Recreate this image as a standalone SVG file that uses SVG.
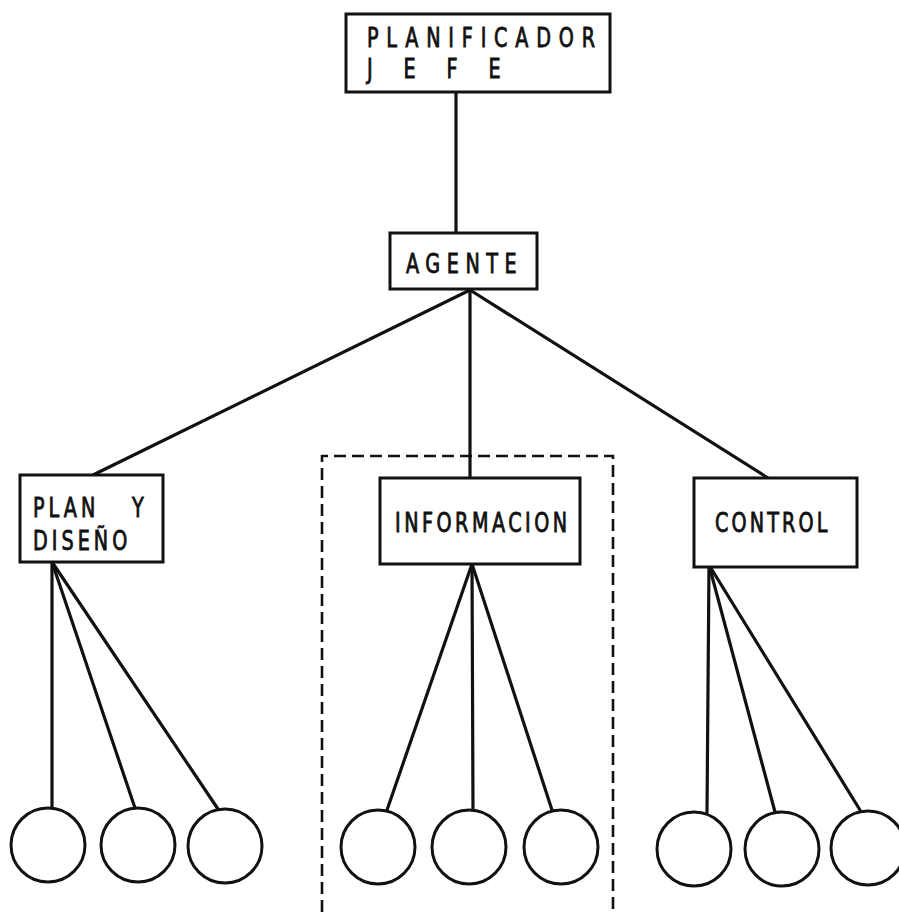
<svg xmlns="http://www.w3.org/2000/svg" width="899" height="912" viewBox="0 0 899 912">
  <style>
    .box { fill: #fff; stroke: #111; stroke-width: 3; }
    .leaf { fill: #fff; stroke: #111; stroke-width: 3; }
    .link { stroke: #111; stroke-width: 3.2; fill: none; stroke-linecap: round; }
    .group { fill: none; stroke: #111; stroke-width: 2.6; stroke-dasharray: 12 6; }
    .lbl { font-family: "DejaVu Sans Condensed", "DejaVu Sans", sans-serif; font-size: 26px; fill: #111; stroke: #111; stroke-width: 0.8; }
  </style>
  <rect width="899" height="912" fill="#fff"/>

  <!-- dashed frame around the information branch -->
  <g id="frame-informacion">
    <path class="group" d="M322 912 V456 H613 V912"/>
  </g>

  <!-- connectors -->
  <g id="connectors">
    <line class="link" x1="456" y1="92" x2="456" y2="233"/>
    <line class="link" x1="470" y1="290" x2="93" y2="475"/>
    <line class="link" x1="470" y1="290" x2="470" y2="478"/>
    <line class="link" x1="470" y1="290" x2="768" y2="478"/>

    <line class="link" x1="52" y1="562" x2="52" y2="808"/>
    <line class="link" x1="52" y1="562" x2="135" y2="808"/>
    <line class="link" x1="52" y1="562" x2="220" y2="812"/>

    <line class="link" x1="472" y1="564" x2="387" y2="810"/>
    <line class="link" x1="472" y1="564" x2="473" y2="810"/>
    <line class="link" x1="472" y1="564" x2="552" y2="810"/>

    <line class="link" x1="709" y1="565" x2="707" y2="812"/>
    <line class="link" x1="709" y1="565" x2="775" y2="812"/>
    <line class="link" x1="709" y1="565" x2="860" y2="810"/>
  </g>

  <!-- labels use narrow, widely spaced typewriter-style capitals -->
  <g id="planificador-jefe">
    <rect class="box" x="346" y="14" width="264" height="78"/>
    <text class="lbl" transform="translate(367,47) scale(0.82,1)" textLength="278" lengthAdjust="spacing">PLANIFICADOR</text>
    <text class="lbl" transform="translate(367,78) scale(0.82,1)" textLength="163" lengthAdjust="spacing">J E F E</text>
  </g>

  <g id="agente">
    <rect class="box" x="390" y="233" width="147" height="56"/>
    <text class="lbl" transform="translate(406,273) scale(0.82,1)" textLength="135" lengthAdjust="spacing">AGENTE</text>
  </g>

  <g id="plan-y-diseno">
    <rect class="box" x="20" y="475" width="143" height="87"/>
    <text class="lbl" transform="translate(33,517) scale(0.82,1)" textLength="76" lengthAdjust="spacing">PLAN</text>
    <text class="lbl" transform="translate(132,517) scale(0.82,1)">Y</text>
    <text class="lbl" transform="translate(33,550) scale(0.82,1)" textLength="115" lengthAdjust="spacing">DISEÑO</text>
  </g>

  <g id="informacion">
    <rect class="box" x="380" y="478" width="200" height="86"/>
    <text class="lbl" transform="translate(395,532) scale(0.82,1)" textLength="210" lengthAdjust="spacing">INFORMACION</text>
  </g>

  <g id="control">
    <rect class="box" x="694" y="478" width="163" height="89"/>
    <text class="lbl" transform="translate(715,532) scale(0.82,1)" textLength="137" lengthAdjust="spacing">CONTROL</text>
  </g>

  <!-- leaf units -->
  <g id="plan-leaf-1"><circle class="leaf" cx="48" cy="845" r="37"/></g>
  <g id="plan-leaf-2"><circle class="leaf" cx="138" cy="845" r="37"/></g>
  <g id="plan-leaf-3"><circle class="leaf" cx="225" cy="846" r="37"/></g>

  <g id="info-leaf-1"><circle class="leaf" cx="378" cy="847" r="37"/></g>
  <g id="info-leaf-2"><circle class="leaf" cx="469" cy="847" r="37"/></g>
  <g id="info-leaf-3"><circle class="leaf" cx="561" cy="847" r="37"/></g>

  <g id="control-leaf-1"><circle class="leaf" cx="694" cy="849" r="37"/></g>
  <g id="control-leaf-2"><circle class="leaf" cx="782" cy="849" r="37"/></g>
  <g id="control-leaf-3"><circle class="leaf" cx="868" cy="848" r="37"/></g>
</svg>
